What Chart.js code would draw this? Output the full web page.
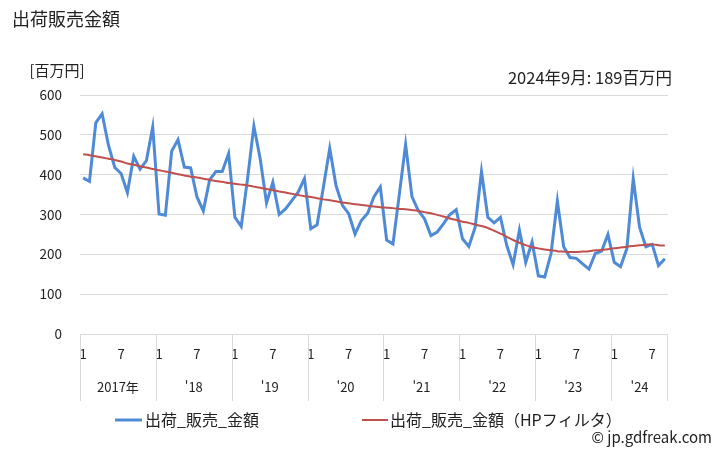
<!DOCTYPE html>
<html lang="ja">
<head>
<meta charset="utf-8">
<script src="https://cdn.jsdelivr.net/npm/chart.js@4"></script>
<style>
html, body { margin: 0; padding: 0; background: #fff; }
canvas { display: block; }
</style>
</head>
<body>
<canvas id="chart" width="728" height="450"></canvas>
<script>
// --- dados ---
const yearLabels = ['2017年', "'18", "'19", "'20", "'21", "'22", "'23", "'24"];
const monthsPerYear = [12, 12, 12, 12, 12, 12, 12, 9];
const monthTickLabels = ['1', '7'];   // mostrados em jan e jul
const yTicks = [0, 100, 200, 300, 400, 500, 600];

const sales = [
  392, 383, 530, 553, 474, 418, 403, 355, 446, 414, 435, 520,
  301, 298, 459, 488, 419, 417, 344, 309, 387, 408, 408, 453,
  293, 270, 390, 522, 440, 329, 381, 300, 314, 335, 356, 390,
  264, 274, 369, 466, 372, 323, 302, 251, 285, 303, 345, 369,
  236, 226, 350, 476, 345, 310, 289, 247, 256, 277, 300, 312,
  239, 220, 268, 408, 293, 279, 293, 222, 174, 261, 180, 231,
  146, 143, 202, 334, 219, 192, 190, 176, 163, 202, 208, 250,
  180, 169, 215, 390, 268, 219, 225, 172, 189
];

const salesHP = [
  451, 449, 446, 443, 440, 437, 433, 428, 425, 421, 418, 414,
  411, 408, 405, 401, 398, 395, 393, 390, 387, 384, 382, 379,
  377, 375, 373, 370, 367, 364, 361, 358, 355, 352, 349, 346,
  344, 341, 338, 336, 333, 330, 328, 326, 324, 322, 320, 318,
  317, 316, 314, 313, 311, 309, 306, 303, 299, 295, 290, 286,
  282, 279, 275, 271, 266, 259, 252, 244, 236, 229, 223, 218,
  215, 212, 210, 208, 207, 206, 206, 207, 208, 210, 211, 213,
  215, 217, 219, 221, 223, 224, 225, 223, 222
];

// categorias mensais
const categories = [];
yearLabels.forEach((y, yi) => {
  for (let m = 1; m <= monthsPerYear[yi]; m++) categories.push((2017 + yi) + '-' + m);
});

const JP = '"Noto Sans CJK JP", "Noto Sans", sans-serif';
const BLUE = '#4f8ad6';
const RED = '#c0504d';
const GRID = '#d9d9d9';
const TXT = '#222';

const decorPlugin = {
  id: 'decor',
  afterDraw(chart) {
    const ctx = chart.ctx;
    const area = chart.chartArea;
    const xs = chart.scales.x;
    const band = (area.right - area.left) / categories.length;
    ctx.save();
    ctx.fillStyle = TXT;
    ctx.textBaseline = 'middle';

    // titulo e textos superiores
    ctx.font = '18px ' + JP;
    ctx.textAlign = 'left';
    ctx.fillText('出荷販売金額', 12, 19);
    ctx.font = '15px ' + JP;
    ctx.textAlign = 'center';
    ctx.fillText('[百万円]', 57, 70);
    ctx.font = '16.5px ' + JP;
    ctx.textAlign = 'right';
    ctx.fillText('2024年9月: 189百万円', 672, 78);

    // rotulos do eixo x
    ctx.font = '13px ' + JP;
    ctx.textAlign = 'center';
    let start = 0;
    ctx.strokeStyle = GRID;
    ctx.lineWidth = 1;
    yearLabels.forEach((label, yi) => {
      const n = monthsPerYear[yi];
      const x0 = xs.getPixelForValue(start) - band / 2;
      const x1 = xs.getPixelForValue(start + n - 1) + band / 2;
      ctx.fillText(monthTickLabels[0], xs.getPixelForValue(start), 354);
      if (n > 6) ctx.fillText(monthTickLabels[1], xs.getPixelForValue(start + 6), 354);
      ctx.fillText(label, (x0 + x1) / 2, 387);
      ctx.beginPath();
      ctx.moveTo(Math.round(x0) + 0.5, area.bottom);
      ctx.lineTo(Math.round(x0) + 0.5, 401);
      ctx.stroke();
      if (yi === yearLabels.length - 1) {
        ctx.beginPath();
        ctx.moveTo(Math.round(x1) - 0.5, area.bottom);
        ctx.lineTo(Math.round(x1) - 0.5, 401);
        ctx.stroke();
      }
      start += n;
    });

    // legenda
    ctx.font = '16px ' + JP;
    ctx.textAlign = 'left';
    ctx.lineWidth = 3;
    ctx.strokeStyle = BLUE;
    ctx.beginPath(); ctx.moveTo(115, 420); ctx.lineTo(142, 420); ctx.stroke();
    ctx.fillText('出荷_販売_金額', 145, 420);
    ctx.lineWidth = 2;
    ctx.strokeStyle = RED;
    ctx.beginPath(); ctx.moveTo(362, 420); ctx.lineTo(388, 420); ctx.stroke();
    ctx.fillText('出荷_販売_金額（HPフィルタ）', 390, 420);

    ctx.font = '15px ' + JP;
    ctx.textAlign = 'right';
    ctx.fillText('© jp.gdfreak.com', 712, 437);
    ctx.restore();
  }
};

new Chart(document.getElementById('chart').getContext('2d'), {
  type: 'line',
  data: {
    labels: categories,
    datasets: [
      { label: '出荷_販売_金額', data: sales, borderColor: BLUE, borderWidth: 3, pointRadius: 0, tension: 0, order: 2 },
      { label: '出荷_販売_金額（HPフィルタ）', data: salesHP, borderColor: RED, borderWidth: 2, pointRadius: 0, tension: 0.3, order: 1 }
    ]
  },
  options: {
    responsive: false,
    animation: false,
    devicePixelRatio: 1,
    layout: { padding: { top: 95, right: 60, left: 0, bottom: 0 } },
    plugins: { legend: { display: false }, tooltip: { enabled: false } },
    scales: {
      x: {
        offset: true,
        grid: { display: false },
        border: { display: false },
        ticks: { display: false },
        afterFit: (s) => { s.height = 116; }
      },
      y: {
        min: 0,
        max: 600,
        afterBuildTicks: (s) => { s.ticks = yTicks.map(v => ({ value: v })); },
        grid: { color: GRID, drawTicks: false },
        border: { display: false },
        ticks: { color: TXT, font: { family: JP, size: 13.5 }, padding: 18 },
        afterFit: (s) => { s.width = 80; }
      }
    }
  },
  plugins: [decorPlugin]
});
</script>
</body>
</html>
